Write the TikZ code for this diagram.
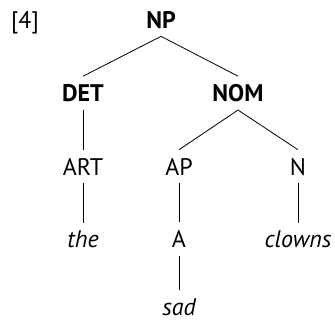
\documentclass[tikz,border=0pt]{standalone}
\usepackage{fontspec}
\setmainfont{PT Sans}
\tikzset{
    cat/.style={font=\fontsize{24}{28}\selectfont\bfseries},
    lab/.style={font=\fontsize{24}{28}\selectfont},
    word/.style={font=\fontsize{24}{28}\selectfont\itshape},
}
\begin{document}
\begin{tikzpicture}[x=1pt, y=-1pt, every node/.style={anchor=base, inner xsep=0pt, inner ysep=8pt}]
    \useasboundingbox (0,0) rectangle (335,322);
    \node[lab] (num) at (25,28) {[4]};
    \node[cat] (np) at (161,28) {NP};
    \node[cat] (det) at (83,101.5) {DET};
    \node[cat] (nom) at (238,101.5) {NOM};
    \node[lab] (art) at (83,175) {ART};
    \node[lab] (ap) at (179,175) {AP};
    \node[lab] (n) at (298,175) {N};
    \node[word] (the) at (83,247.5) {the};
    \node[lab] (a) at (179,247.5) {A};
    \node[word] (clowns) at (298,247.5) {clowns};
    \node[word, inner ysep=3pt] (sad) at (179,315) {sad};
    \draw[line width=0.8pt] (np.south) -- (det.north) (np.south) -- (nom.north);
    \draw[line width=0.8pt] (nom.south) -- (ap.north) (nom.south) -- (n.north);
    \draw[line width=0.8pt] (det.south) -- (art.north) (art.south) -- (art.south |- the.north);
    \draw[line width=0.8pt] (ap.south) -- (a.north) (a.south) -- ([yshift=5pt]sad.north);
    \draw[line width=0.8pt] (n.south) -- (n.south |- clowns.north);
\end{tikzpicture}
\end{document}
